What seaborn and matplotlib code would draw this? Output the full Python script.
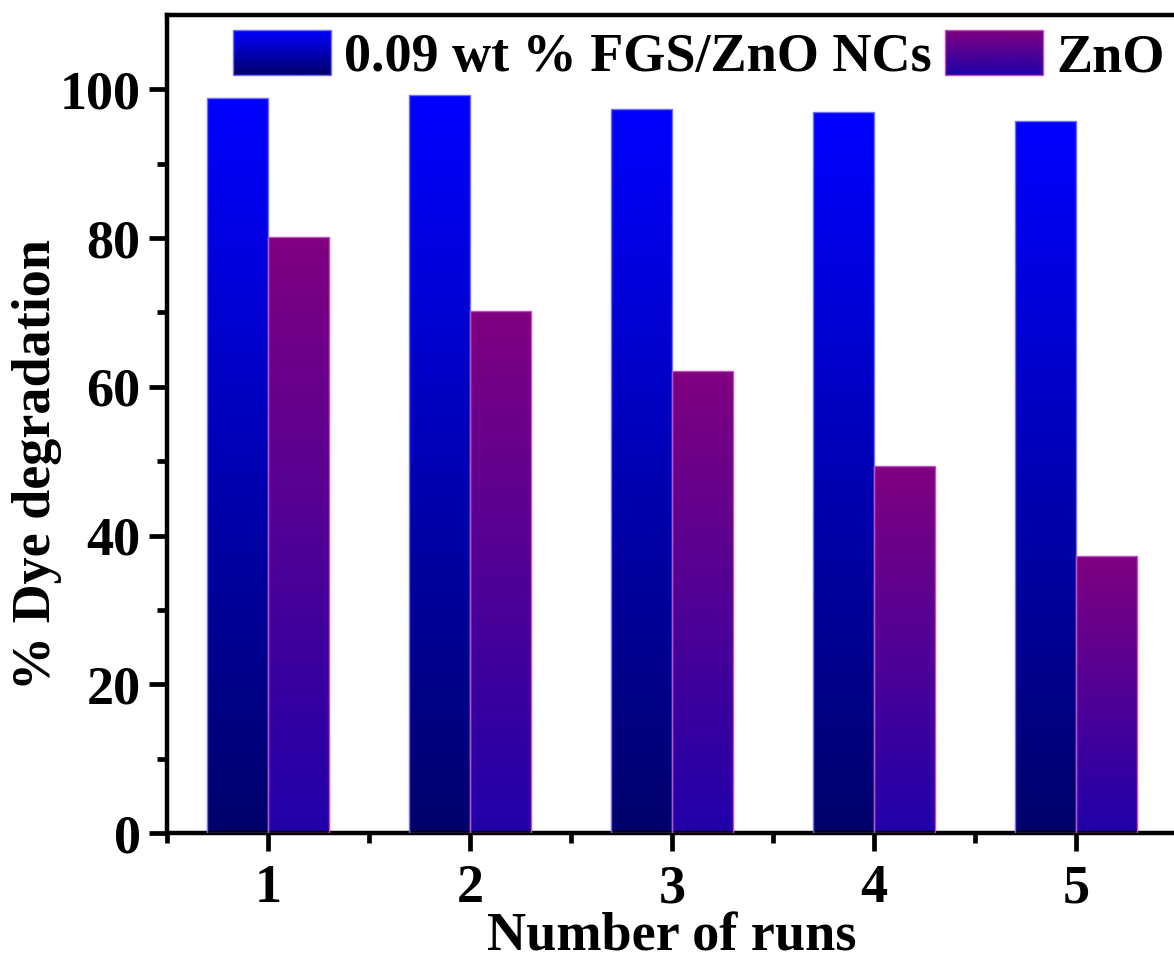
import numpy as np
import pandas as pd
import matplotlib
matplotlib.use('Agg')
import matplotlib.pyplot as plt
import seaborn as sns
from matplotlib.colors import LinearSegmentedColormap
from matplotlib.legend_handler import HandlerBase
from matplotlib.image import BboxImage
from matplotlib.transforms import Bbox, TransformedBbox

# Data
runs = ['1', '2', '3', '4', '5']
series_names = ['0.09 wt % FGS/ZnO NCs', 'ZnO']
fgs_zno = [98.9, 99.3, 97.4, 96.9, 95.7]
zno = [80.2, 70.2, 62.1, 49.3, 37.2]

df = pd.DataFrame({
    'run': runs * 2,
    'sample': [series_names[0]] * len(runs) + [series_names[1]] * len(runs),
    'value': fgs_zno + zno,
})

# gradient colour maps (bottom -> top)
cmaps = {
    series_names[0]: LinearSegmentedColormap.from_list('fgs', ['#00006a', '#0000ff']),
    series_names[1]: LinearSegmentedColormap.from_list('zno', ['#2000aa', '#800080']),
}
edge_colors = {series_names[0]: '#7070ff', series_names[1]: '#c050c0'}
grad = np.linspace(0, 1, 256).reshape(-1, 1)

sns.set_style('white')
plt.rcParams['font.family'] = ['Liberation Serif', 'DejaVu Serif']
plt.rcParams['font.weight'] = 'bold'
plt.rcParams['axes.labelweight'] = 'bold'
plt.rcParams['text.color'] = 'black'
plt.rcParams['axes.labelcolor'] = 'black'
plt.rcParams['xtick.color'] = 'black'
plt.rcParams['ytick.color'] = 'black'

FS = 39

fig = plt.figure(figsize=(11.74, 9.63), dpi=100)
ax = fig.add_axes([167 / 1174, 130 / 963, 1010 / 1174, 818 / 963])

sns.barplot(data=df, x='run', y='value', hue='sample', hue_order=series_names,
            palette=['#0000ff', '#800080'], width=0.6, ax=ax, legend=False,
            saturation=1)

# paint gradients into each bar
for container, name in zip(ax.containers, series_names):
    for bar in container:
        x0, y0 = bar.get_x(), bar.get_y()
        w, h = bar.get_width(), bar.get_height()
        bar.set_facecolor('none')
        bar.set_edgecolor(edge_colors[name])
        bar.set_linewidth(1.0)
        bar.set_zorder(3)
        im = ax.imshow(grad, extent=[x0, x0 + w, y0, y0 + h], origin='lower',
                       aspect='auto', cmap=cmaps[name], interpolation='bicubic',
                       zorder=2)
        im.set_clip_path(bar)

ax.set_xlim(-0.5, 4.5)
ax.set_ylim(0, 110)
ax.set_yticks([0, 20, 40, 60, 80, 100])
ax.set_yticks([10, 30, 50, 70, 90], minor=True)
ax.set_xticks(range(5))
ax.set_xticklabels(runs)
ax.set_xticks([-0.5, 0.5, 1.5, 2.5, 3.5, 4.5], minor=True)

for side in ['left', 'bottom', 'top']:
    ax.spines[side].set_linewidth(3.2)
    ax.spines[side].set_color('black')
ax.spines['right'].set_visible(False)

ax.tick_params(axis='both', which='both', bottom=True, left=True, top=False, right=False)
ax.tick_params(axis='both', which='major', direction='out', length=13, width=3.4,
               labelsize=FS, color='black', labelcolor='black')
ax.tick_params(axis='both', which='minor', direction='out', length=7, width=3.4,
               color='black')
ax.tick_params(axis='x', which='major', pad=9.5)
ax.tick_params(axis='y', which='major', pad=6)
for lab in ax.get_xticklabels() + ax.get_yticklabels():
    lab.set_fontweight('bold')

ax.set_xlabel('Number of runs', fontsize=FS, fontweight='bold', labelpad=-1)
ax.set_ylabel('% Dye degradation', fontsize=FS, fontweight='bold')
ax.yaxis.set_label_coords(-0.104, 0.45)


class GradientHandler(HandlerBase):
    def __init__(self, cmap, edge):
        super().__init__()
        self.cmap = cmap
        self.edge = edge

    def create_artists(self, legend, orig_handle, xdescent, ydescent,
                       width, height, fontsize, trans):
        bb = Bbox.from_bounds(-xdescent, -ydescent, width, height)
        img = BboxImage(TransformedBbox(bb, trans), cmap=self.cmap,
                        interpolation='bicubic')
        # BboxImage draws row 0 at the top, so flip
        img.set_data(grad[::-1])
        img.set_clim(0, 1)
        rect = plt.Rectangle((-xdescent, -ydescent), width, height,
                             facecolor='none', edgecolor=self.edge, lw=1.0,
                             transform=trans)
        return [img, rect]


handles = [plt.Rectangle((0, 0), 1, 1) for _ in series_names]
handler_map = {h: GradientHandler(cmaps[n], edge_colors[n])
               for h, n in zip(handles, series_names)}
leg = ax.legend(handles, series_names, handler_map=handler_map, ncol=2,
                loc='upper left', bbox_to_anchor=(233 / 1174, 1 - 30 / 963),
                bbox_transform=fig.transFigure, frameon=False,
                prop={'family': 'Liberation Serif', 'weight': 'bold', 'size': FS},
                handlelength=1.8, handleheight=0.9, handletextpad=0.25,
                columnspacing=0.25, borderpad=0, borderaxespad=0)
for t in leg.get_texts():
    t.set_color('black')

fig.savefig('out.png', dpi=100)
